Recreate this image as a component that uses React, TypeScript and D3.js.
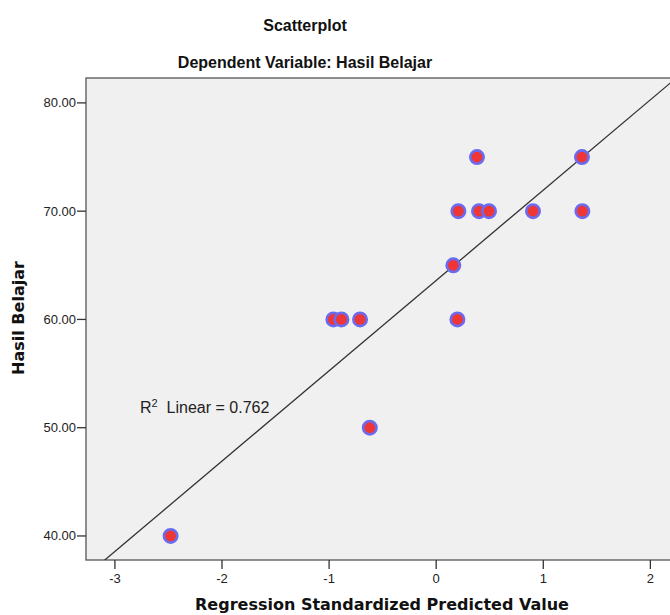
import React, { useEffect, useRef } from 'react';
import * as d3 from 'd3';

// values
const predicted: number[] = [0.381, 1.361, 0.207, 0.40, 0.493, 0.904, 1.365, 0.16, -0.96, -0.885, -0.711, 0.198, -0.62, -2.48];
const hasilBelajar: number[] = [75, 75, 70, 70, 70, 70, 70, 65, 60, 60, 60, 60, 50, 40];
const xTicks: number[] = [-3, -2, -1, 0, 1, 2];
const yTicks: number[] = [40, 50, 60, 70, 80];
// fit line as drawn in the picture
const fitIntercept = 63.6;
const fitSlope = 8.343;
const rSquaredLabel = '0.762';

const App: React.FC = () => {
    const svgRef = useRef<SVGSVGElement | null>(null);

    useEffect(() => {
        if (!svgRef.current) return;
        const svg = d3.select(svgRef.current);
        svg.selectAll('*').remove();

        const width = 670;
        const height = 615;
        const plot = { left: 86, top: 78, right: 690, bottom: 560 };
        const font = "'Liberation Sans', Arial, sans-serif";
        const boldFont = "'DejaVu Sans', Verdana, sans-serif";

        const x = d3.scaleLinear().domain([-3.27, 2.37]).range([plot.left, plot.right]);
        const y = d3.scaleLinear().domain([37.78, 82.3]).range([plot.bottom, plot.top]);

        // titles
        svg.append('text').attr('x', 305).attr('y', 31).attr('text-anchor', 'middle')
            .attr('font-family', font).attr('font-size', 16).attr('font-weight', 'bold')
            .attr('fill', '#111').text('Scatterplot');
        svg.append('text').attr('x', 305).attr('y', 68).attr('text-anchor', 'middle')
            .attr('font-family', font).attr('font-size', 16).attr('font-weight', 'bold')
            .attr('fill', '#111').text('Dependent Variable: Hasil Belajar');

        // plot background
        svg.append('rect')
            .attr('x', plot.left).attr('y', plot.top)
            .attr('width', plot.right - plot.left).attr('height', plot.bottom - plot.top)
            .attr('fill', '#f0f0f0').attr('stroke', '#555').attr('stroke-width', 1.3);

        const clip = svg.append('clipPath').attr('id', 'plotclip');
        clip.append('rect').attr('x', plot.left).attr('y', plot.top)
            .attr('width', plot.right - plot.left).attr('height', plot.bottom - plot.top);

        const [x0, x1] = x.domain();
        svg.append('line')
            .attr('clip-path', 'url(#plotclip)')
            .attr('x1', x(x0)).attr('y1', y(fitIntercept + fitSlope * x0))
            .attr('x2', x(x1)).attr('y2', y(fitIntercept + fitSlope * x1))
            .attr('stroke', '#333').attr('stroke-width', 1.3);

        // R² label
        const r2 = svg.append('text').attr('x', 140).attr('y', 413)
            .attr('font-family', font).attr('font-size', 16).attr('fill', '#222');
        r2.append('tspan').text('R');
        r2.append('tspan').attr('font-size', 11).attr('dy', -6).text('2');
        r2.append('tspan').attr('dy', 6).text('\u00a0 Linear = ' + rSquaredLabel);

        // points
        svg.append('g').selectAll('circle')
            .data(predicted)
            .enter()
            .append('circle')
            .attr('cx', (d) => x(d))
            .attr('cy', (d, i) => y(hasilBelajar[i]))
            .attr('r', 6.7)
            .attr('fill', '#ee3636')
            .attr('stroke', '#6b6bf0')
            .attr('stroke-width', 2.6);

        // y axis
        const yAxis = svg.append('g');
        yAxis.selectAll('line').data(yTicks).enter().append('line')
            .attr('x1', plot.left - 9).attr('x2', plot.left)
            .attr('y1', (d) => y(d)).attr('y2', (d) => y(d))
            .attr('stroke', '#333').attr('stroke-width', 1.3);
        yAxis.selectAll('text').data(yTicks).enter().append('text')
            .attr('x', plot.left - 10).attr('y', (d) => y(d) + 4.5)
            .attr('text-anchor', 'end').attr('font-family', font).attr('font-size', 13)
            .attr('fill', '#222').text((d) => d3.format('.2f')(d));

        // x axis
        const xAxis = svg.append('g');
        xAxis.selectAll('line').data(xTicks).enter().append('line')
            .attr('x1', (d) => x(d)).attr('x2', (d) => x(d))
            .attr('y1', plot.bottom).attr('y2', plot.bottom + 9)
            .attr('stroke', '#333').attr('stroke-width', 1.3);
        xAxis.selectAll('text').data(xTicks).enter().append('text')
            .attr('x', (d) => x(d)).attr('y', plot.bottom + 23)
            .attr('text-anchor', 'middle').attr('font-family', font).attr('font-size', 13)
            .attr('fill', '#222').text((d) => String(d));

        // axis titles
        svg.append('text').attr('x', 382).attr('y', 610).attr('text-anchor', 'middle')
            .attr('font-family', boldFont).attr('font-size', 16).attr('font-weight', 'bold')
            .attr('fill', '#111').text('Regression Standardized Predicted Value');
        svg.append('text')
            .attr('transform', `translate(24,${318}) rotate(-90)`)
            .attr('text-anchor', 'middle')
            .attr('font-family', boldFont).attr('font-size', 16).attr('font-weight', 'bold')
            .attr('fill', '#111').text('Hasil Belajar');

        svg.attr('width', width).attr('height', height);
    }, []);

    return (
        <svg ref={svgRef} width={670} height={615}
            style={{ position: 'absolute', left: 0, top: 0, background: '#fff' }} />
    );
};

export default App;
